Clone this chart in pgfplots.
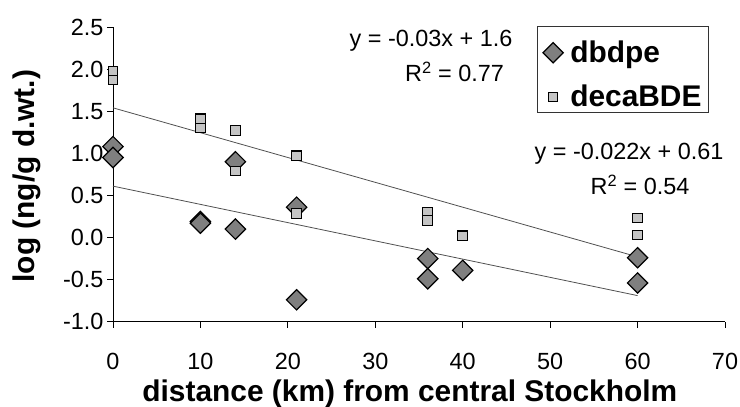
\documentclass[border=0pt]{standalone}
\usepackage{pgfplots}
\pgfplotsset{compat=1.18}
\usepackage{fontspec}
\setmainfont{Liberation Sans}
\definecolor{dgray}{HTML}{7F7F7F}
\definecolor{lgray}{HTML}{C4C4C4}
\definecolor{tline}{HTML}{505050}
\begin{document}
\begin{tikzpicture}
\path[use as bounding box] (0bp,0bp) rectangle (740bp,407bp);
\begin{axis}[
  at={(113bp,85.3bp)}, anchor=south west,
  scale only axis, width=612bp, height=294.7bp,
  xmin=0, xmax=70, ymin=-1, ymax=2.5,
  axis x line=bottom, axis y line=left,
  axis line style={-, black, line width=0.8pt},
  xtick={0,10,...,70}, ytick={-1,-0.5,0,0.5,1,1.5,2,2.5},
  tick align=outside, major tick length=6bp,
  tick style={black, line width=0.8pt},
  clip=false,
  /pgf/number format/assume math mode=true,
  yticklabel style={/pgf/number format/.cd, fixed, fixed zerofill, precision=1},
  ticklabel style={font=\fontsize{23.5}{28}\selectfont},
  xticklabel style={yshift=-22bp},
  xlabel={distance (km) from central Stockholm},
  ylabel={log (ng/g d.wt.)},
  label style={font=\fontsize{30}{36}\selectfont\bfseries},
  xlabel style={at={(axis description cs:0.485,-0.246)}, anchor=center},
  ylabel style={at={(axis description cs:-0.1405,0.494)}, anchor=center},
  legend style={name=leg, at={(axis description cs:0.694,1.0)}, anchor=north west,
    draw=none, fill=none, font=\fontsize{30}{36}\selectfont\bfseries,
    inner xsep=5bp, inner ysep=12bp, row sep=17bp,
    /tikz/every odd column/.append style={column sep=5bp}},
  legend cell align=left,
]
\addplot[only marks, mark=square*, mark size=7.2bp,
  mark options={rotate=45, fill=dgray, draw=black, line width=1.2pt}]
  coordinates {(0,1.08) (0,0.95) (10,0.19) (10,0.17) (14,0.90) (14,0.10)
    (21,0.36) (21,-0.74) (36,-0.25) (36,-0.49) (40,-0.39) (60,-0.24) (60,-0.54)};
\addlegendentry{dbdpe}
\addplot[only marks, mark=square*, mark size=4.8bp,
  mark options={fill=lgray, draw=black, line width=1.1pt}]
  coordinates {(0,1.97) (0,1.87) (10,1.41) (10,1.30) (14,1.27) (14,0.79)
    (21,0.97) (21,0.285) (36,0.30) (36,0.20) (40,0.02) (60,0.23) (60,0.03)};
\addlegendentry{decaBDE}
\addplot[tline, line width=0.8pt, forget plot] coordinates {(0,1.54) (60,-0.23)};
\addplot[tline, line width=0.8pt, forget plot] coordinates {(0,0.61) (60,-0.69)};
\end{axis}
\draw[black!80, line width=0.8pt] ([yshift=10bp]leg.south west) rectangle ([yshift=1bp]leg.north east);
\begin{scope}[every node/.style={font=\fontsize{23.5}{28}\selectfont, inner sep=0pt, anchor=base}]
\node at (431bp,360.3bp) {y = -0.03x + 1.6};
\node at (454.5bp,325bp) {R\textsuperscript{2} = 0.77};
\node at (629bp,247.7bp) {y = -0.022x + 0.61};
\node at (640bp,212bp) {R\textsuperscript{2} = 0.54};
\end{scope}
\end{tikzpicture}
\end{document}
